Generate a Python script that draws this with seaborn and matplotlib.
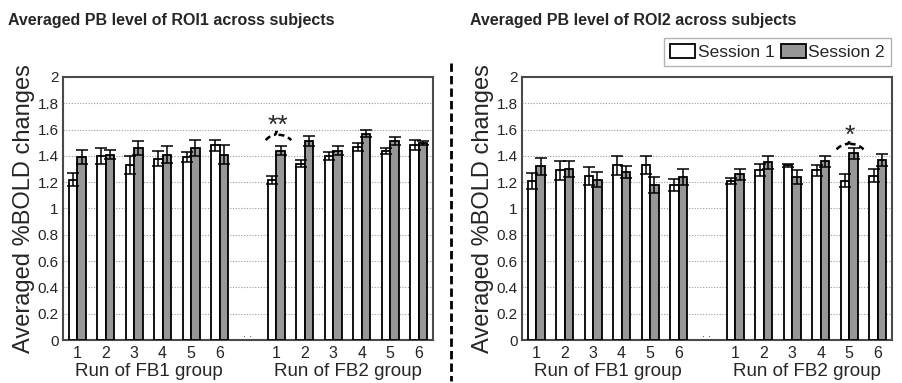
import numpy as np
import pandas as pd
import matplotlib
matplotlib.use("Agg")
import matplotlib.pyplot as plt
import matplotlib.patches as mpatches
from matplotlib.path import Path
from matplotlib.ticker import FuncFormatter, MultipleLocator
import seaborn as sns

# ---------------- data ----------------
runs = ["1", "2", "3", "4", "5", "6"]
sessions = ["Session 1", "Session 2"]

roi1_fb1_s1 = [1.22, 1.40, 1.33, 1.38, 1.39, 1.48]
roi1_fb1_s2 = [1.39, 1.41, 1.46, 1.41, 1.46, 1.41]
roi1_fb2_s1 = [1.22, 1.34, 1.40, 1.47, 1.44, 1.48]
roi1_fb2_s2 = [1.44, 1.51, 1.44, 1.57, 1.51, 1.50]
roi1_fb1_s1_err = [0.05, 0.06, 0.07, 0.06, 0.04, 0.04]
roi1_fb1_s2_err = [0.055, 0.035, 0.055, 0.063, 0.063, 0.073]
roi1_fb2_s1_err = [0.03, 0.028, 0.028, 0.03, 0.023, 0.038]
roi1_fb2_s2_err = [0.035, 0.038, 0.036, 0.03, 0.03, 0.015]

roi2_fb1_s1 = [1.21, 1.29, 1.25, 1.33, 1.33, 1.18]
roi2_fb1_s2 = [1.32, 1.30, 1.22, 1.28, 1.18, 1.24]
roi2_fb2_s1 = [1.21, 1.29, 1.33, 1.29, 1.21, 1.25]
roi2_fb2_s2 = [1.26, 1.35, 1.24, 1.36, 1.42, 1.37]
roi2_fb1_s1_err = [0.06, 0.07, 0.068, 0.073, 0.068, 0.048]
roi2_fb1_s2_err = [0.063, 0.058, 0.056, 0.045, 0.063, 0.058]
roi2_fb2_s1_err = [0.025, 0.046, 0.012, 0.043, 0.05, 0.05]
roi2_fb2_s2_err = [0.043, 0.053, 0.056, 0.043, 0.041, 0.048]

titles = ["Averaged PB level of ROI1 across subjects",
          "Averaged PB level of ROI2 across subjects"]
group_labels = ["Run of FB1 group", "Run of FB2 group"]
ylabel = "Averaged %BOLD changes"

slots = [f"FB1-{r}" for r in runs] + ["gap"] + [f"FB2-{r}" for r in runs]
tick_labels = runs + [""] + runs


def build(fb1_s1, fb1_s2, fb2_s1, fb2_s2, e11, e12, e21, e22):
    rows = []
    for i, r in enumerate(runs):
        rows.append((f"FB1-{r}", "Session 1", fb1_s1[i], e11[i]))
        rows.append((f"FB1-{r}", "Session 2", fb1_s2[i], e12[i]))
    for i, r in enumerate(runs):
        rows.append((f"FB2-{r}", "Session 1", fb2_s1[i], e21[i]))
        rows.append((f"FB2-{r}", "Session 2", fb2_s2[i], e22[i]))
    return pd.DataFrame(rows, columns=["slot", "session", "value", "err"])


df1 = build(roi1_fb1_s1, roi1_fb1_s2, roi1_fb2_s1, roi1_fb2_s2,
            roi1_fb1_s1_err, roi1_fb1_s2_err, roi1_fb2_s1_err, roi1_fb2_s2_err)
df2 = build(roi2_fb1_s1, roi2_fb1_s2, roi2_fb2_s1, roi2_fb2_s2,
            roi2_fb1_s1_err, roi2_fb1_s2_err, roi2_fb2_s1_err, roi2_fb2_s2_err)

# ---------------- style ----------------
sns.set_style("white")
plt.rcParams["font.family"] = ["Liberation Sans", "DejaVu Sans"]

W, H = 902, 383
fig = plt.figure(figsize=(W / 100, H / 100), dpi=100)

def px_axes(x0, x1, ytop, ybot):
    return fig.add_axes([x0 / W, 1 - ybot / H, (x1 - x0) / W, (ybot - ytop) / H])

ax1 = px_axes(63, 433, 77, 340)
ax2 = px_axes(522, 892, 77, 340)

palette = {"Session 1": "white", "Session 2": "#979797"}


def brace(ax, xc, xl, xr, y_end, y_mid, y_peak):
    w = xr - xl
    verts = [(xl, y_end), (xl + 0.2 * w, y_mid), (xc - 0.1 * w, y_mid),
             (xc, y_mid), (xc, y_peak),
             (xc, y_mid), (xc + 0.1 * w, y_mid),
             (xr - 0.2 * w, y_mid), (xr, y_end)]
    codes = [Path.MOVETO, Path.CURVE3, Path.CURVE3,
             Path.CURVE3, Path.CURVE3, Path.CURVE3, Path.CURVE3,
             Path.CURVE3, Path.CURVE3]
    ax.add_patch(mpatches.PathPatch(Path(verts, codes), fill=False,
                                    lw=1.8, ls=(0, (2.4, 1.6)), color="black",
                                    capstyle="butt", zorder=5))


for k, (ax, df) in enumerate([(ax1, df1), (ax2, df2)]):
    sns.barplot(data=df, x="slot", y="value", hue="session", order=slots,
                hue_order=sessions, palette=palette, errorbar=None,
                width=0.6, edgecolor="black", linewidth=1.3, ax=ax,
                legend=(k == 1), zorder=3)
    # error bars on the drawn bars
    for cont, sess in zip(ax.containers, sessions):
        for bar in cont:
            xc = bar.get_x() + bar.get_width() / 2
            h = bar.get_height()
            if not np.isfinite(h):
                continue
            slot = slots[int(round(xc))]
            e = df[(df.slot == slot) & (df.session == sess)]["err"].iloc[0]
            ax.errorbar(xc, h, yerr=e, fmt="none", ecolor="black",
                        elinewidth=1.1, capsize=4, capthick=1.1, zorder=4)

    ax.set_ylim(0, 2)
    ax.set_xlim(-0.5, len(slots) - 0.5)
    ax.yaxis.set_major_locator(MultipleLocator(0.2))
    ax.yaxis.set_major_formatter(FuncFormatter(lambda v, p: f"{v:g}"))
    ax.set_xticks(range(len(slots)))
    ax.set_xticklabels(tick_labels)
    ax.tick_params(axis="y", length=0, labelsize=11, pad=3)
    ax.tick_params(axis="x", length=0, labelsize=11.5, pad=4)
    ax.grid(axis="y", ls=(0, (1, 1.5)), color="#9a9a9a", lw=0.8, zorder=0)
    ax.set_axisbelow(True)
    for s in ax.spines.values():
        s.set_color("#4a4a4a")
        s.set_linewidth(1.5)
    ax.set_xlabel("")
    ax.set_ylabel(ylabel, fontsize=17, labelpad=2)
    ax.text(6, 0.008, ". .", ha="center", va="bottom", fontsize=8,
            color="#333333")
    for gx, gl in zip([2.5, 9.5], group_labels):
        ax.text(gx, -0.118, gl, transform=ax.get_xaxis_transform(),
                ha="center", va="center", fontsize=13.5)

# significance marks
brace(ax1, 7.0, 6.62, 7.52, 1.52, 1.56, 1.59)
ax1.text(7.05, 1.625, "**", ha="center", va="center", fontsize=19)
brace(ax2, 11.0, 10.55, 11.5, 1.45, 1.49, 1.52)
ax2.text(11.0, 1.55, "*", ha="center", va="center", fontsize=19)

# legend
handles, labels = ax2.get_legend_handles_labels()
ax2.legend(handles, labels, loc="upper right", bbox_to_anchor=(891 / W, 1 - 38 / H),
           bbox_transform=fig.transFigure, ncol=2, frameon=True, fancybox=False,
           edgecolor="#a0a0a0", fontsize=12.5, handlelength=1.45, handleheight=0.85,
           handletextpad=0.15, columnspacing=0.35, borderpad=0.35, borderaxespad=0)
ax2.get_legend().get_frame().set_linewidth(1.0)

# titles
fig.text(8 / W, 1 - 20 / H, titles[0], ha="left", va="center",
         fontsize=11.5, fontweight="bold")
fig.text(470 / W, 1 - 20 / H, titles[1], ha="left", va="center",
         fontsize=11.5, fontweight="bold")

# dashed separator
fig.add_artist(plt.Line2D([451 / W, 451 / W], [1 - 63 / H, 1 - 381 / H],
                          transform=fig.transFigure, color="black", lw=2,
                          ls=(0, (3, 1.5))))

fig.savefig("out.png", dpi=100)
